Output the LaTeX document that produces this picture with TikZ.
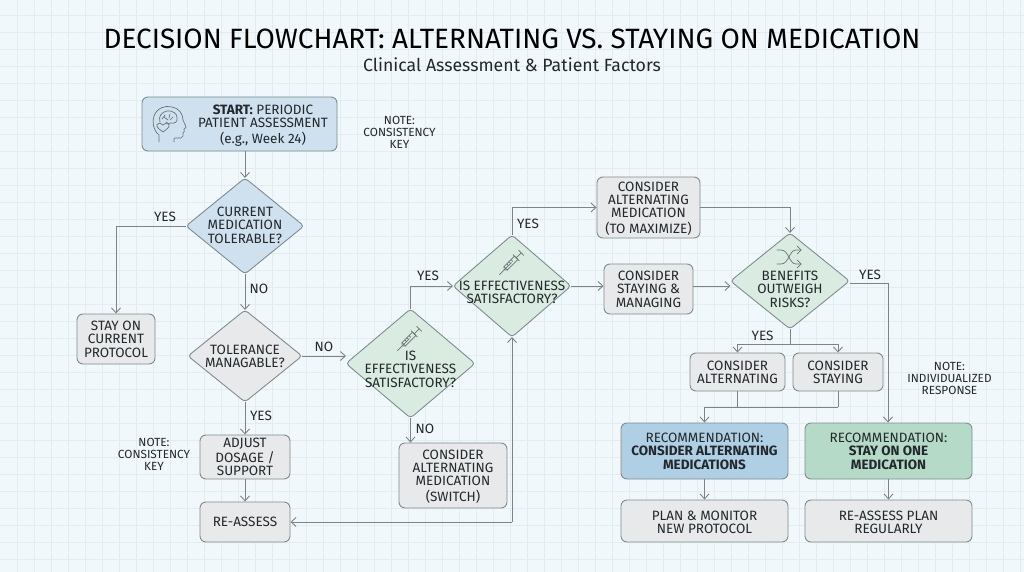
\documentclass[tikz,border=0pt]{standalone}
\usepackage{fontspec}
\setmainfont{Fira Sans}
\usetikzlibrary{arrows.meta,shapes.geometric,calc}
\definecolor{bgc}{HTML}{F0F8FC}
\definecolor{gridc}{HTML}{E3ECF0}
\definecolor{linec}{HTML}{7C8486}
\definecolor{edgec}{HTML}{7F8C8F}
\definecolor{bluef}{HTML}{CFE0EE}
\definecolor{greenf}{HTML}{DAEBE1}
\definecolor{grayf}{HTML}{E8E9EA}
\definecolor{recblue}{HTML}{AFCFE5}
\definecolor{recgreen}{HTML}{B5DAC8}
\definecolor{inkc}{HTML}{22282B}
\definecolor{iconc}{HTML}{6B7376}
\newcommand{\dtext}[2][0]{\makebox[0pt][c]{\raisebox{\dimexpr-#1pt-5.5pt\relax}[0pt][0pt]{\begin{tabular}{@{}c@{}}#2\end{tabular}}}}
\tikzset{
  x=1pt,y=-1pt,
  every node/.style={text=inkc,font=\fontsize{13.5}{12.7}\selectfont},
  boxn/.style={draw=edgec,line width=0.9pt,rounded corners=6pt,inner sep=0pt,minimum width=#1},
  dia/.style={draw=edgec,line width=0.9pt,shape=diamond,rounded corners=3.5pt,inner sep=0pt,outer sep=0pt},
  lab/.style={font=\fontsize{13.5}{13}\selectfont,inner sep=0pt},
  notetxt/.style={inner sep=0pt,font=\fontsize{11.8}{12}\selectfont},
  conn/.style={draw=linec,line width=1pt,-{Straight Barb[length=5pt,width=9pt,line width=0.9pt]}},
  plain/.style={draw=linec,line width=1pt},
  icon/.style={draw=iconc,line width=0.7pt,line cap=round,line join=round},
}
\newcommand{\syringe}[2]{%
  \begin{scope}[shift={(#1,#2)},rotate=45,icon]
    \draw (-18,0) -- (-9,0);
    \draw (-9,-2.4) rectangle (6,2.4);
    \draw (-9,-2.4) -- (-11,0) -- (-9,2.4);
    \draw (-9,0) -- (-1,0);
    \draw (6,-4.5) -- (6,4.5);
    \draw (6,0) -- (13,0);
    \draw (13,-3.5) -- (13,3.5);
    \draw (-5,-2.4) -- (-5,0) (-2,-2.4) -- (-2,0) (1,-2.4) -- (1,0);
  \end{scope}}
\begin{document}
\begin{tikzpicture}
\useasboundingbox (0,0) rectangle (1024,572);
\fill[bgc] (0,0) rectangle (1024,572);
\foreach \i in {1,...,60} \draw[gridc,line width=0.7pt] ({17*\i},0) -- ({17*\i},572);
\foreach \j in {0,...,33} \draw[gridc,line width=0.7pt] (0,{15+17*\j}) -- (1024,{15+17*\j});

% titles
\node[inner sep=0pt,font=\fontsize{27.9}{30}\selectfont,text=black] (title) at (512,38.5) {DECISION FLOWCHART: ALTERNATING VS. STAYING ON MEDICATION};
\node[inner sep=0pt,font=\fontsize{17.7}{20}\selectfont] (subtitle) at (512,65) {Clinical Assessment \& Patient Factors};

% start
\node[boxn=195pt,fill=bluef,minimum height=54pt] (start) at (239.5,124) {};
\node[inner sep=0pt] (starttxt) at (263,124) {\dtext{{\bfseries START:} PERIODIC\\PATIENT ASSESSMENT\\(e.g., Week 24)}};

% diamonds
\node[dia,fill=bluef,minimum width=118pt,minimum height=96pt] (d1) at (245,226) {\dtext[-1]{CURRENT\\MEDICATION\\TOLERABLE?}};
\node[dia,fill=grayf,minimum width=114pt,minimum height=92pt] (d2) at (245,356) {\dtext{TOLERANCE\\MANAGABLE?}};
\node[dia,fill=greenf,minimum width=129pt,minimum height=109pt] (d3) at (410.5,363.5) {\dtext[5.5]{IS\\EFFECTIVENESS\\SATISFACTORY?}};
\node[dia,fill=greenf,minimum width=118pt,minimum height=102pt] (d4) at (512,286) {\dtext[6]{IS EFFECTIVENESS\\SATISFACTORY?}};
\node[dia,fill=greenf,minimum width=119pt,minimum height=96pt] (d5) at (790,281) {\dtext[8]{BENEFITS\\OUTWEIGH\\RISKS?}};

% boxes
\node[boxn=78pt,fill=grayf,minimum height=50pt] (stay) at (116,339) {\dtext{STAY ON\\CURRENT\\PROTOCOL}};
\node[boxn=90pt,fill=grayf,minimum height=44pt] (adjust) at (245,457) {\dtext{ADJUST\\DOSAGE /\\SUPPORT}};
\node[boxn=90pt,fill=grayf,minimum height=40pt] (reassess) at (245,522) {\dtext{RE-ASSESS}};
\node[boxn=108pt,fill=grayf,minimum height=65pt] (switch) at (453,475.5) {\dtext{CONSIDER\\ALTERNATING\\MEDICATION\\(SWITCH)}};
\node[boxn=103pt,fill=grayf,minimum height=61pt] (maxim) at (648.5,207.5) {\dtext{CONSIDER\\ALTERNATING\\MEDICATION\\(TO MAXIMIZE)}};
\node[boxn=89pt,fill=grayf,minimum height=50pt] (staying) at (648.5,289) {\dtext{CONSIDER\\STAYING \&\\MANAGING}};
\node[boxn=95pt,fill=grayf,minimum height=38pt] (calt) at (737.5,372) {\dtext[0.5]{CONSIDER\\ALTERNATING}};
\node[boxn=90pt,fill=grayf,minimum height=38pt] (cstay) at (838,372) {\dtext[0.5]{CONSIDER\\STAYING}};
\node[boxn=167pt,fill=recblue,minimum height=56pt] (recalt) at (704.5,451) {\dtext{RECOMMENDATION:\\{\bfseries CONSIDER ALTERNATING}\\{\bfseries MEDICATIONS}}};
\node[boxn=167pt,fill=recgreen,minimum height=56pt] (recstay) at (888.5,451) {\dtext{RECOMMENDATION:\\{\bfseries STAY ON ONE}\\{\bfseries MEDICATION}}};
\node[boxn=167pt,fill=grayf,minimum height=42pt] (plan) at (704.5,521) {\dtext[1]{PLAN \& MONITOR\\NEW PROTOCOL}};
\node[boxn=167pt,fill=grayf,minimum height=42pt] (replan) at (888.5,521) {\dtext[1]{RE-ASSESS PLAN\\REGULARLY}};

% notes
\node[notetxt] (n1) at (399.5,133) {\dtext[-1]{NOTE:\\CONSISTENCY\\KEY}};
\node[notetxt] (n2) at (154,455) {\dtext[-1]{NOTE:\\CONSISTENCY\\KEY}};
\node[notetxt] (n3) at (949.5,379) {\dtext[-1]{NOTE:\\INDIVIDUALIZED\\RESPONSE}};

% connector helpers
\coordinate (j1) at (512,522);
\coordinate (j2) at (790,344);
\coordinate (j3) at (838,407);
\coordinate (j4) at (888,283);

% connectors
\draw[conn] (start.south -| d1.north) -- (d1.north);
\draw[conn] (d1.west) -| (stay.north);
\draw[conn] (d1.south) -- (d2.north);
\draw[conn] (d2.south) -- (adjust.north);
\draw[conn] (adjust.south) -- (reassess.north);
\draw[conn] (d2.east) -- (d2.east -| d3.west);
\draw[conn] (d3.north) |- (d4.west);
\draw[conn] (d3.south) -- (d3.south |- switch.north);
\draw[conn] (d4.north) |- (maxim.west);
\draw[conn] (d4.east) -- (d4.east -| staying.west);
\draw[conn] (staying.east |- d4.east) -- (d4.east -| d5.west);
\draw[conn] (maxim.east) -| (d5.north);
\draw[plain] (d5.south) -- (j2);
\draw[conn] (j2) -| (calt.north);
\draw[conn] (j2) -| (cstay.north);
\draw[plain] (calt.south) -- (calt.south |- j3);
\draw[plain] (cstay.south) -- (j3);
\draw[conn] (j3) -| (recalt.north);
\draw[conn] (d5.east |- j4) -- (j4) -- (j4 |- recstay.north);
\draw[conn] (recalt.south) -- (plan.north);
\draw[conn] (recstay.south) -- (replan.north);
\draw[conn] (j1) -- (reassess.east);
\draw[conn] (j1) -- (d4.south);

% edge labels
\node[lab] (y1) at (165,217) {YES};
\node[lab] (no1) at (259,289) {NO};
\node[lab] (y2) at (261,415.5) {YES};
\node[lab] (no2) at (324,346.5) {NO};
\node[lab] (y3) at (428,276) {YES};
\node[lab] (no3) at (425,428.5) {NO};
\node[lab] (y4) at (528,223.5) {YES};
\node[lab] (y5) at (870,274.5) {YES};
\node[lab] (y6) at (762.5,336) {YES};

% icons: head with brain
\begin{scope}[icon]
  \draw (159,142) -- (159,135) .. controls (153,130) and (152,122) .. (154,116) .. controls (157,108) and (165,105) .. (172,107) .. controls (179,108) and (183,114) .. (183,120) .. controls (184,123) and (186,126) .. (186,127) .. controls (186,128) and (184,129) .. (184,129) .. controls (185,131) and (184,132) .. (183,133) .. controls (183,135) and (184,137) .. (181,138) .. controls (178,138.5) and (174,137) .. (174,139) -- (174,142);
  \draw (160,122) .. controls (158,116) and (162,112) .. (167,111) .. controls (172,110) and (178,114) .. (177,118) .. controls (178,122) and (174,124) .. (171,123) .. controls (169,125) and (167,123) .. (166,122);
  \draw (164,117) -- (168,120) (170,114) -- (169,118) (173,117) -- (170,120) (162,119) -- (165,115);
  \draw (163,132) .. controls (159,129) and (156,127) .. (157,124.5) .. controls (158,122.5) and (161.5,122.5) .. (163,125) .. controls (164.5,122.5) and (168,122.5) .. (169,124.5) .. controls (170,127) and (167,129) .. (163,132) -- cycle;
\end{scope}
% syringes
\syringe{512}{262}
\syringe{410}{338}
% shuffle
\begin{scope}[icon]
  \draw (777,250) -- (781,250) .. controls (789,250) and (789,264) .. (796,264) -- (801,264);
  \draw (777,264) -- (781,264) .. controls (789,264) and (789,250) .. (796,250) -- (801,250);
  \draw (797,246) -- (801,250) -- (797,254);
  \draw (797,260) -- (801,264) -- (797,268);
\end{scope}
\end{tikzpicture}
\end{document}
